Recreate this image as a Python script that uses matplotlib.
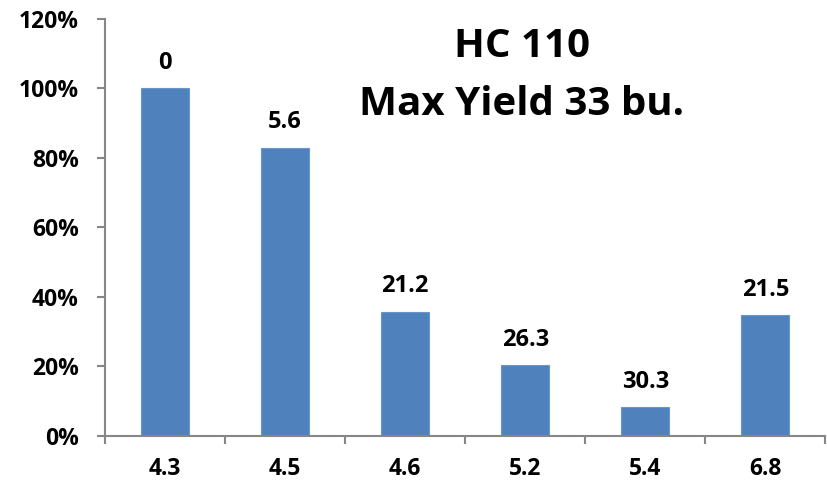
import matplotlib
matplotlib.use("Agg")
import matplotlib.pyplot as plt
from matplotlib.ticker import FixedLocator, PercentFormatter

plt.rcParams['font.family'] = ['Open Sans', 'DejaVu Sans']
plt.rcParams['font.weight'] = 'bold'

# soil pH classes on the x axis
ph_labels = ["4.3", "4.5", "4.6", "5.2", "5.4", "6.8"]
# yield loss relative to maximum, percent
yield_loss = [100, 83, 35.8, 20.3, 8.2, 34.8]
# measured yields (bu.) printed above each bar
yields = ["0", "5.6", "21.2", "26.3", "30.3", "21.5"]

bar_color = "#4F81BD"
axis_color = "#868686"

fig = plt.figure(figsize=(8.27, 4.86), dpi=100)
ax = fig.add_axes([0.127, 0.103, 0.871, 0.858])

x = list(range(len(ph_labels)))
bars = ax.bar(x, yield_loss, width=0.4, color=bar_color,
              edgecolor="#6C96C8", linewidth=0.8, zorder=2)

for xi, v, lab in zip(x, yield_loss, yields):
    ax.annotate(lab, (xi, v), xytext=(0, 14), textcoords="offset points",
                ha="center", va="baseline", fontsize=17, fontweight="bold")

ax.set_xlim(-0.5, len(ph_labels) - 0.5)
ax.set_ylim(0, 120)
ax.set_yticks(range(0, 121, 20))
ax.yaxis.set_major_formatter(PercentFormatter(decimals=0))

ax.set_xticks(x)
ax.set_xticklabels(ph_labels)
ax.xaxis.set_minor_locator(FixedLocator([i - 0.5 for i in range(len(ph_labels) + 1)]))

for side in ("top", "right"):
    ax.spines[side].set_visible(False)
for side in ("left", "bottom"):
    ax.spines[side].set_color(axis_color)
    ax.spines[side].set_linewidth(1.5)

ax.tick_params(axis="y", which="major", length=6, width=1.5, color=axis_color,
               pad=13, labelsize=16.5)
ax.tick_params(axis="x", which="major", length=0, pad=15, labelsize=16.5)
ax.tick_params(axis="x", which="minor", length=6, width=1.5, color=axis_color,
               direction="out")
for lbl in ax.get_xticklabels() + ax.get_yticklabels():
    lbl.set_fontweight("bold")

fig.text(0.631, 0.905, "HC 110", ha="center", va="center",
         fontsize=29, fontweight="bold")
fig.text(0.631, 0.785, "Max Yield 33 bu.", ha="center", va="center",
         fontsize=29, fontweight="bold")

fig.savefig("out.png", dpi=100)
